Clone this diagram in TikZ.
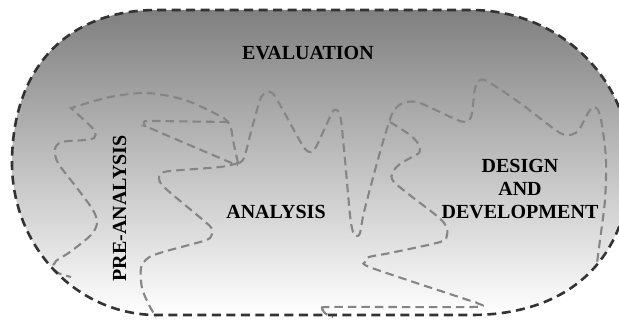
\documentclass[tikz,border=0pt]{standalone}
\usepackage{fontspec}
\setmainfont{Liberation Serif}
\begin{document}
\begin{tikzpicture}[x=1pt,y=-1pt,
  outline/.style={draw=black!80, line width=2.6pt, dash pattern=on 9pt off 5.5pt},
  region/.style={draw=black!48, line width=2.1pt, dash pattern=on 8.5pt off 5pt},
  txt/.style={font=\fontsize{20}{22}\selectfont\bfseries, inner sep=0pt, anchor=base, text=black}]
\useasboundingbox (0,0) rectangle (619,321);
\clip (0,0) rectangle (619,321);
% outer field with vertical gradient
\shade[top color=black!50, bottom color=white]
  (157,10) -- (471,10) .. controls (559,10) and (630,79) .. (630,163)
  .. controls (630,258) and (570,315) .. (471,315) -- (157,315)
  .. controls (77,315) and (12,247) .. (12,163)
  .. controls (12,68) and (67,10) .. (157,10) -- cycle;
% inner region borders
\draw[region] plot[smooth, tension=0.5] coordinates {(238,163) (234,145) (231,128) (228,122) (220,116) (185,100) (147,93) (110,97) (71,108)}
  -- plot[smooth, tension=0.5] coordinates {(71,108) (84,120) (95,131) (94,138) (85,140) (62,142) (55,149) (58,163) (77,188) (93,210) (97,223) (91,235) (70,252) (56,261) (53,268) (58,273) (71,277)};
\draw[region] plot[smooth, tension=0.5] coordinates {(228,122) (190,121.5) (150,121) (144,122) (145,126) (152,129) (227,161) (238,165)};
\draw[region] plot[smooth, tension=0.5] coordinates {(238,163) (220,167) (170,171) (161,174) (159,179) (165,188) (203,220) (212,229) (210,238) (200,242) (163,252) (148,258) (141,268) (142,288) (149,305) (156,317)};
\draw[region] plot[smooth, tension=0.5] coordinates {(238,163) (244,158) (252,128) (260,100) (265,93) (270,92) (276,98) (300,141) (306,150) (311,152) (316,147) (330,117) (334,110) (338,111) (341,120) (345,160) (350,215) (353,232) (356,236) (360,233) (364,212) (377,163) (385,135) (392,114) (398,106) (407,102) (420,103) (455,119) (466,122) (471,117) (473,105) (475,88) (479,81) (487,81) (520,103) (557,131) (568,135) (578,131) (588,113) (593,107) (598,110) (602,125) (606,160) (605,200) (600,240) (597,263)};
\draw[region] plot[smooth, tension=0.5] coordinates {(390,122) (410,135) (419,145) (419,153) (412,157) (400,164) (393,172) (395,183) (437,216) (446,226) (447,235) (440,242) (390,253) (369,257) (365,262) (372,268) (465,299) (477,303) (472,307) (330,307) (323,310) (326,314) (333,317)};
% outer dashed border
\draw[outline]
  (157,10) -- (471,10) .. controls (559,10) and (630,79) .. (630,163)
  .. controls (630,258) and (570,315) .. (471,315) -- (157,315)
  .. controls (77,315) and (12,247) .. (12,163)
  .. controls (12,68) and (67,10) .. (157,10) -- cycle;
% labels
\node[txt] (eval) at (308,60) {EVALUATION};
\node[txt] (ana) at (276,218) {ANALYSIS};
\node[txt, rotate=90] (pre) at (126,208.5) {PRE-ANALYSIS};
\node[txt] (des) at (520,172) {DESIGN};
\node[txt] (and) at (520,195) {AND};
\node[txt] (dev) at (520,218) {DEVELOPMENT};
\end{tikzpicture}
\end{document}
